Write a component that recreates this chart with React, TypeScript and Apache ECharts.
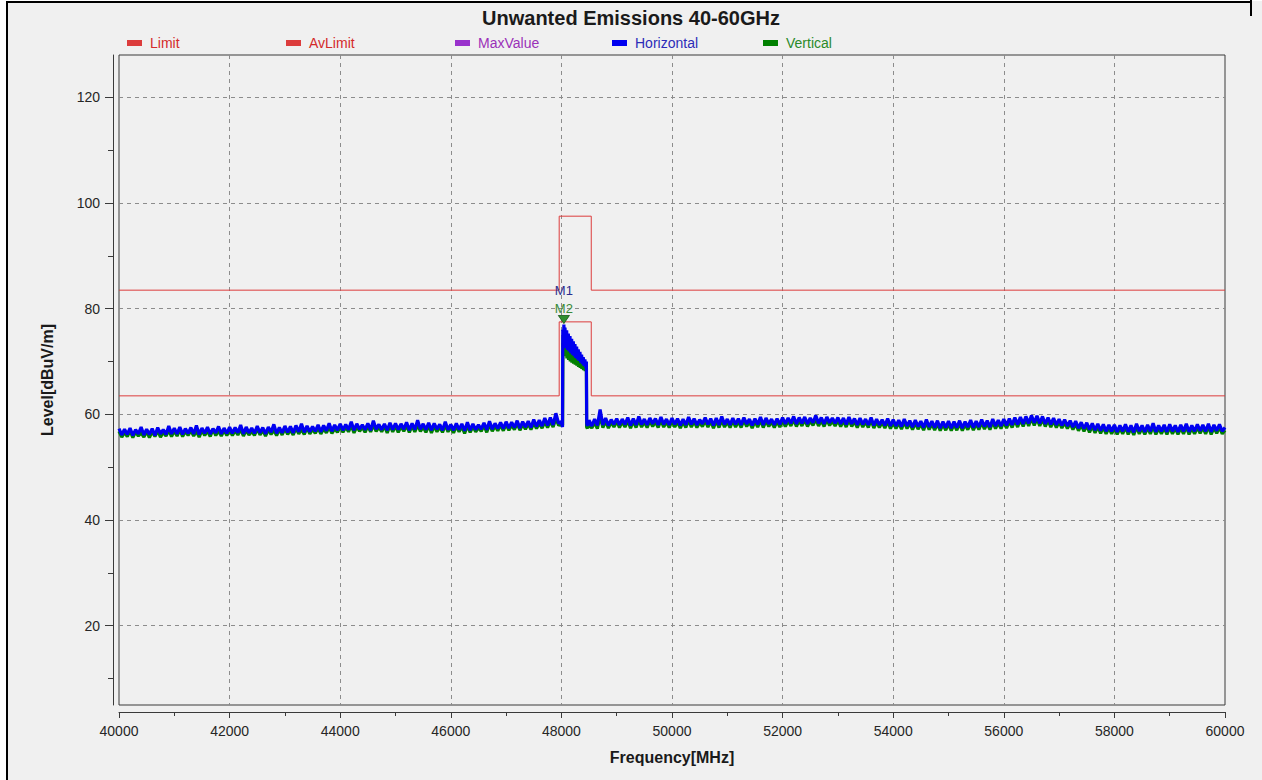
import React, { useEffect, useRef } from "react";
import * as echarts from "echarts";

// ---------------- data ----------------
const SWEEP_STEP = 50; // MHz between sweep points
const SWEEP_A_START = 40000;
const SWEEP_B_START = 48500;

const X_MIN = 40000;
const X_MAX = 60000;
const Y_MIN = 5;
const Y_MAX = 128;
const Y_LABELS = [20, 40, 60, 80, 100, 120];
const Y_MINOR = [10, 30, 50, 70, 90, 110];

const LEGEND_NAMES = ["Limit", "AvLimit", "MaxValue", "Horizontal", "Vertical"];

const LIMIT_FREQ = [40000, 47960, 47960, 48540, 48540, 60000];
const LIMIT_LEVEL = [83.5, 83.5, 97.5, 97.5, 83.5, 83.5];
const AVLIMIT_LEVEL = [63.5, 63.5, 77.5, 77.5, 63.5, 63.5];

// Horizontal sweep 40000..48000
const H_A = [
  57.3,56.1,57.2,56.2,57.4,56.0,57.1,56.3,57.6,56.1,57.2,56.2,57.3,56.0,57.5,56.3,57.1,56.2,57.8,56.3,
  57.4,56.3,57.6,56.2,57.3,56.4,57.5,56.3,57.9,56.2,57.4,56.4,57.6,56.3,57.3,56.5,57.7,56.3,57.4,56.4,
  57.6,56.4,57.5,56.5,58.0,56.3,57.6,56.5,57.4,56.4,57.8,56.5,57.5,56.3,57.6,56.6,58.1,56.4,57.5,56.5,
  57.8,56.6,57.7,56.5,57.9,56.7,58.2,56.6,57.8,56.7,57.7,56.8,58.0,56.7,57.9,56.9,58.3,56.8,58.0,57.0,
  58.2,57.0,58.1,57.1,58.6,57.0,58.2,57.2,58.0,57.1,58.3,57.0,58.8,57.2,58.1,57.1,58.2,57.0,58.4,57.1,
  58.3,57.1,58.2,57.2,58.5,57.0,58.3,57.1,58.9,57.2,58.2,57.1,58.4,57.0,58.3,57.2,58.1,57.0,58.6,57.1,
  58.1,57.0,58.3,57.1,58.2,56.9,58.5,57.0,58.2,57.1,58.0,57.2,58.4,57.1,58.7,57.2,58.3,57.3,58.5,57.3,
  58.6,57.4,58.5,57.5,58.8,57.4,58.6,57.6,58.7,57.5,59.0,57.7,58.9,57.8,59.3,57.9,59.4,58.0,60.2,58.3,
  58.6,
];
// Horizontal peak region 48000..48500
const H_PEAK_F = [48010,48020,48025,48035,48045,48055,48065,48080,48095,48110,48125,48140,48155,48170,48185,48200,48215,48230,48245,48260,48275,48290,48305,48320,48335,48350,48365,48380,48395,48410,48425,48440,48452,48458,48470,48480,48490];
const H_PEAK_V = [58.0,57.6,76.0,73.0,77.0,72.8,76.4,72.5,75.9,72.2,75.3,71.9,74.8,71.6,74.3,71.3,73.8,71.0,73.3,70.7,72.8,70.4,72.3,70.1,71.8,69.8,71.3,69.5,70.8,69.2,70.4,68.9,70.0,58.3,57.8,58.9,57.9];
// Horizontal sweep 48500..60000
const H_B = [
  58.9,57.8,59.1,57.9,60.9,58.0,59.3,57.9,59.0,58.1,
  59.2,58.0,59.1,58.1,59.4,57.9,59.2,58.0,59.6,58.1,59.1,58.0,59.3,58.2,59.2,58.0,59.5,58.1,59.1,58.0,
  59.3,58.1,59.2,57.9,59.1,58.0,59.5,58.1,59.2,58.0,59.0,58.2,59.4,58.1,59.2,57.9,59.3,58.0,59.6,58.1,
  59.1,58.0,59.3,58.1,59.2,58.0,59.4,58.2,59.1,57.9,59.2,58.1,59.5,58.0,59.3,58.2,59.1,58.0,59.2,58.1,
  59.4,58.2,59.3,58.3,59.6,58.2,59.4,58.3,59.5,58.2,59.3,58.4,59.8,58.3,59.4,58.2,59.5,58.4,59.3,58.3,
  59.4,58.2,59.3,58.1,59.5,58.2,59.2,58.0,59.3,58.1,59.1,58.0,59.4,57.9,59.1,58.0,59.0,57.9,59.2,57.8,
  59.0,57.8,58.9,57.7,59.1,57.8,58.8,57.6,58.9,57.7,58.7,57.5,59.0,57.6,58.7,57.5,58.8,57.4,58.6,57.5,
  58.7,57.4,58.6,57.5,58.8,57.4,58.6,57.6,58.9,57.5,58.7,57.6,59.0,57.7,58.8,57.6,59.1,57.8,58.9,57.8,
  59.1,57.9,59.2,58.0,59.4,58.1,59.5,58.2,59.6,58.3,59.8,58.4,59.7,58.3,59.6,58.2,59.4,58.1,59.3,58.0,
  59.1,57.9,59.0,57.8,58.8,57.6,58.7,57.4,58.5,57.3,58.4,57.1,58.3,57.0,58.2,56.9,58.1,56.8,58.0,56.8,
  58.0,56.7,57.9,56.8,58.1,56.7,57.9,56.6,58.2,56.8,57.9,56.7,58.0,56.8,58.3,56.7,57.9,56.8,58.0,56.7,
  58.1,56.8,57.9,56.7,58.0,56.8,58.2,56.7,57.9,56.8,58.1,56.9,58.0,56.8,58.2,56.7,58.0,56.9,58.1,56.8,
  57.5,
];

// Vertical sweep 40000..48000
const V_A = [
  56.8,55.7,56.6,55.8,56.9,55.6,56.7,55.9,56.5,55.7,56.8,55.6,56.7,55.8,56.9,55.7,56.6,55.9,57.0,55.8,
  56.9,55.9,57.1,55.8,56.8,56.0,57.0,55.9,56.8,55.7,57.0,56.0,56.9,55.8,57.2,56.0,56.9,55.9,57.0,56.0,
  57.1,56.0,56.9,56.1,57.2,55.9,57.0,56.1,56.8,56.0,57.3,56.1,57.0,55.9,57.1,56.2,57.0,56.0,57.2,56.1,
  57.3,56.2,57.1,56.1,57.4,56.3,57.2,56.2,57.5,56.3,57.2,56.4,57.4,56.3,57.3,56.5,57.6,56.4,57.3,56.6,
  57.7,56.6,57.6,56.7,57.9,56.5,57.7,56.8,57.6,56.6,57.8,56.7,58.0,56.8,57.6,56.7,57.8,56.5,57.9,56.7,
  57.8,56.6,57.7,56.8,57.9,56.6,57.8,56.7,58.0,56.8,57.6,56.6,57.9,56.5,57.8,56.7,57.6,56.6,58.0,56.7,
  57.6,56.5,57.8,56.7,57.7,56.4,57.9,56.6,57.7,56.7,57.5,56.8,57.9,56.6,58.1,56.8,57.8,56.9,58.0,56.9,
  58.1,57.0,58.0,57.1,58.3,57.0,58.1,57.2,58.2,57.1,58.4,57.3,58.3,57.4,58.6,57.5,58.7,57.6,59.2,57.9,
  58.2,
];
// Vertical peak region
const V_PEAK_F = [48010,48022,48028,48040,48055,48070,48085,48100,48115,48130,48145,48160,48175,48190,48205,48220,48235,48250,48265,48280,48295,48310,48325,48340,48355,48370,48385,48400,48415,48430,48445,48452,48456,48470,48480,48490];
const V_PEAK_V = [57.7,58.0,74.2,71.5,73.8,71.0,73.4,70.6,73.0,70.3,72.6,70.0,72.2,69.8,71.8,69.6,71.4,69.4,71.0,69.2,70.7,69.0,70.4,68.8,70.1,68.6,69.8,68.4,69.5,68.2,69.2,68.5,57.6,57.3,58.2,57.4];
// Vertical sweep 48500..60000
const V_B = [
  58.3,57.4,58.5,57.3,59.6,57.5,58.7,57.4,58.5,57.6,
  58.7,57.5,58.6,57.6,58.8,57.4,58.7,57.5,58.9,57.6,58.6,57.5,58.8,57.7,58.6,57.5,58.9,57.6,58.6,57.5,
  58.8,57.6,58.6,57.4,58.6,57.5,58.9,57.6,58.7,57.5,58.5,57.7,58.8,57.6,58.7,57.4,58.8,57.5,58.9,57.6,
  58.6,57.5,58.8,57.6,58.7,57.5,58.9,57.7,58.6,57.4,58.7,57.6,58.9,57.5,58.8,57.7,58.6,57.5,58.7,57.6,
  58.9,57.7,58.8,57.8,59.0,57.7,58.9,57.8,59.0,57.7,58.8,57.9,59.1,57.8,58.9,57.7,59.0,57.9,58.8,57.8,
  58.9,57.7,58.8,57.6,59.0,57.7,58.7,57.5,58.8,57.6,58.6,57.5,58.9,57.4,58.6,57.5,58.5,57.4,58.7,57.3,
  58.5,57.3,58.4,57.2,58.6,57.3,58.3,57.1,58.4,57.2,58.2,57.0,58.5,57.1,58.2,57.0,58.3,56.9,58.1,57.0,
  58.2,56.9,58.1,57.0,58.3,56.9,58.1,57.1,58.4,57.0,58.2,57.1,58.5,57.2,58.3,57.1,58.6,57.3,58.4,57.3,
  58.6,57.4,58.7,57.5,58.9,57.6,59.0,57.7,59.1,57.8,59.3,57.9,59.2,57.8,59.1,57.7,58.9,57.6,58.8,57.5,
  58.6,57.4,58.5,57.3,58.3,57.1,58.2,56.9,58.0,56.8,57.9,56.6,57.8,56.5,57.7,56.4,57.6,56.3,57.5,56.3,
  57.5,56.2,57.4,56.3,57.6,56.2,57.4,56.1,57.7,56.3,57.4,56.2,57.5,56.3,57.8,56.2,57.4,56.3,57.5,56.2,
  57.6,56.3,57.4,56.2,57.5,56.3,57.7,56.2,57.4,56.3,57.6,56.4,57.5,56.3,57.7,56.2,57.5,56.4,57.6,56.3,
  57.0,
];

// markers
const M1_POINT = [48045, 77.0];
const M2_POINT = [48045, 77.0];

// ---------------- styles ----------------
const FONT = "'Liberation Sans', Arial, sans-serif";
const AXIS_COLOR = "#3a3a3a";
const GRID_COLOR = "#8c8c8c";
const LEGEND_LEFT = [127, 286, 455, 612, 763];
const LEGEND_TEXT = ["#d42a2a", "#d42a2a", "#9b30b8", "#2c2cb8", "#2a8a2a"];
const SERIES_COLOR = ["#dc3c3c", "#dc3c3c", "#9932cc", "#0000f0", "#008000"];
const LEGEND_ICON = "path://M0,0H15V6H0Z M18,0H18.01V0.01H18Z";
const TRI = "path://M0,0L10,0L5,8Z";

function sweep(start: number, vals: number[]) {
  return vals.map((v, i) => [start + i * SWEEP_STEP, v]);
}
function pairs(f: number[], v: number[]) {
  return f.map((x, i) => [x, v[i]]);
}

export default function App() {
  const ref = useRef<HTMLDivElement>(null);
  useEffect(() => {
    const chart = echarts.init(ref.current!, null, { renderer: "svg" });
    const hData = [...sweep(SWEEP_A_START, H_A), ...pairs(H_PEAK_F, H_PEAK_V), ...sweep(SWEEP_B_START, H_B)];
    const vData = [...sweep(SWEEP_A_START, V_A), ...pairs(V_PEAK_F, V_PEAK_V), ...sweep(SWEEP_B_START, V_B)];
    const option: any = {
      animation: false,
      backgroundColor: "#f0f0f0",
      textStyle: { fontFamily: FONT },
      title: {
        text: "Unwanted Emissions 40-60GHz",
        left: "center",
        top: 8,
        padding: 0,
        textStyle: { fontSize: 20, fontWeight: "bold", color: "#1a1a1a", fontFamily: FONT },
      },
      legend: LEGEND_NAMES.map((name, i) => ({
        data: [name],
        left: LEGEND_LEFT[i],
        top: 36,
        padding: 0,
        itemWidth: 18,
        itemHeight: 6,
        icon: LEGEND_ICON,
        selectedMode: false,
        itemStyle: { borderWidth: 0 },
        lineStyle: { width: 0 },
        textStyle: { color: LEGEND_TEXT[i], fontSize: 14, fontFamily: FONT },
      })),
      grid: {
        left: 119,
        right: 37,
        top: 55,
        bottom: 75,
        show: true,
        backgroundColor: "transparent",
        borderColor: AXIS_COLOR,
        borderWidth: 1,
      },
      xAxis: {
        type: "value",
        min: X_MIN,
        max: X_MAX,
        interval: 2000,
        position: "bottom",
        offset: 7,
        axisLine: { show: true, onZero: false, lineStyle: { color: AXIS_COLOR, width: 1 } },
        axisTick: { show: true, length: 6, lineStyle: { color: AXIS_COLOR } },
        minorTick: { show: true, splitNumber: 2, length: 4, lineStyle: { color: AXIS_COLOR } },
        axisLabel: {
          margin: 12,
          color: "#262626",
          fontSize: 14,
          fontFamily: FONT,
          formatter: (v: number) => String(v),
        },
        splitLine: {
          show: true,
          showMinLine: false,
          showMaxLine: false,
          lineStyle: { color: GRID_COLOR, type: [4, 4], width: 1 },
        },
        name: "Frequency[MHz]",
        nameLocation: "middle",
        nameGap: 37,
        nameTextStyle: { fontWeight: "bold", fontSize: 16, color: "#1a1a1a", fontFamily: FONT },
      },
      yAxis: [
        {
          type: "value",
          min: Y_MIN,
          max: Y_MAX,
          position: "left",
          offset: 6,
          axisLine: { show: true, onZero: false, lineStyle: { color: AXIS_COLOR, width: 1 } },
          axisTick: { show: true, length: 8, customValues: Y_LABELS, lineStyle: { color: AXIS_COLOR } },
          axisLabel: { customValues: Y_LABELS, margin: 13, color: "#262626", fontSize: 14, fontFamily: FONT },
          splitLine: { show: false },
          name: "Level[dBuV/m]",
          nameLocation: "middle",
          nameGap: 58,
          nameRotate: 90,
          nameTextStyle: { fontWeight: "bold", fontSize: 16, color: "#1a1a1a", fontFamily: FONT },
        },
        {
          type: "value",
          min: Y_MIN,
          max: Y_MAX,
          position: "left",
          offset: 6,
          axisLine: { show: false },
          axisTick: { show: true, length: 5, customValues: Y_MINOR, lineStyle: { color: AXIS_COLOR } },
          axisLabel: { show: false },
          splitLine: { show: false },
        },
      ],
      graphic: [
        { type: "rect", shape: { x: 0, y: 0, width: 7, height: 780 }, style: { fill: "#ffffff" }, silent: true },
        { type: "rect", shape: { x: 0, y: 0, width: 1262, height: 1 }, style: { fill: "#ffffff" }, silent: true },
        { type: "rect", shape: { x: 6, y: 1, width: 2, height: 779 }, style: { fill: "#000000" }, silent: true },
        { type: "rect", shape: { x: 6, y: 1, width: 1246, height: 2 }, style: { fill: "#000000" }, silent: true },
        { type: "rect", shape: { x: 1250, y: 0, width: 2, height: 16 }, style: { fill: "#000000" }, silent: true },
      ],
      series: [
        {
          name: "Limit",
          type: "line",
          color: SERIES_COLOR[0],
          symbol: "none",
          z: 2,
          lineStyle: { width: 1, color: SERIES_COLOR[0] },
          data: pairs(LIMIT_FREQ, LIMIT_LEVEL),
          markLine: {
            silent: true,
            z: 1,
            symbol: ["none", "none"],
            label: { show: false },
            lineStyle: { color: GRID_COLOR, type: [4, 4], width: 1 },
            emphasis: { disabled: true },
            data: Y_LABELS.map((v) => ({ yAxis: v })),
          },
        },
        {
          name: "AvLimit",
          type: "line",
          color: SERIES_COLOR[1],
          symbol: "none",
          z: 2,
          lineStyle: { width: 1, color: SERIES_COLOR[1] },
          data: pairs(LIMIT_FREQ, AVLIMIT_LEVEL),
        },
        {
          name: "MaxValue",
          type: "line",
          color: SERIES_COLOR[2],
          symbol: "none",
          data: [],
        },
        {
          name: "Horizontal",
          type: "line",
          color: SERIES_COLOR[3],
          symbol: "none",
          z: 4,
          lineStyle: { width: 3.2, color: SERIES_COLOR[3] },
          data: hData,
          markPoint: {
            z: 6,
            symbol: TRI,
            symbolSize: [11, 8],
            symbolOffset: [0, -5],
            itemStyle: { color: "#2f8f2f", borderColor: "#1d4f1d", borderWidth: 0.5 },
            label: { show: true, position: "top", distance: 18, formatter: "{b}", color: "#2e2e8e", fontSize: 13, fontFamily: FONT },
            data: [{ name: "M1", coord: M1_POINT }],
          },
        },
        {
          name: "Vertical",
          type: "line",
          color: SERIES_COLOR[4],
          symbol: "none",
          z: 3,
          lineStyle: { width: 3.2, color: SERIES_COLOR[4] },
          data: vData,
          markPoint: {
            z: 7,
            symbol: TRI,
            symbolSize: [11, 8],
            symbolOffset: [0, -5],
            itemStyle: { color: "#2f8f2f", borderColor: "#1d4f1d", borderWidth: 0.5 },
            label: { show: true, position: "top", distance: 0, formatter: "{b}", color: "#3a8a3a", fontSize: 13, fontFamily: FONT },
            data: [{ name: "M2", coord: M2_POINT }],
          },
        },
      ],
    };
    chart.setOption(option);
    return () => chart.dispose();
  }, []);
  return <div ref={ref} style={{ position: "fixed", left: 0, top: 0, width: 1262, height: 780 }} />;
}
